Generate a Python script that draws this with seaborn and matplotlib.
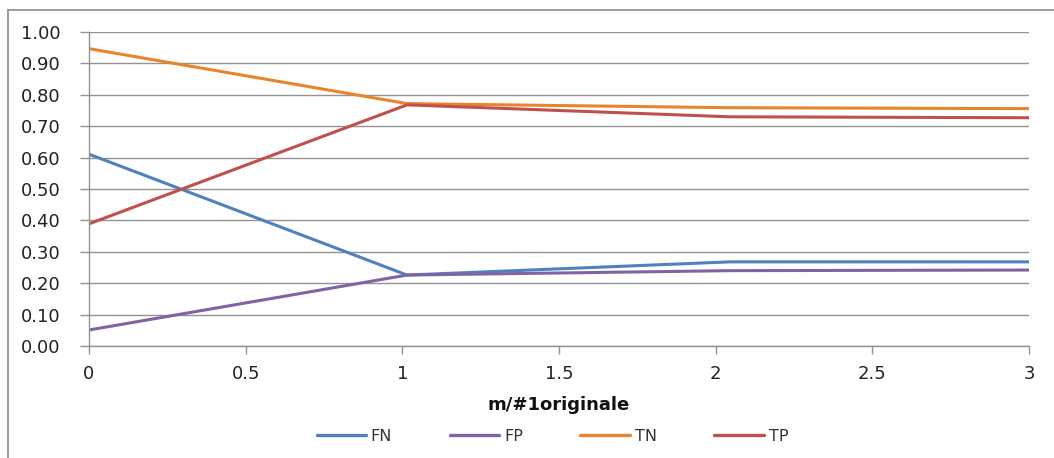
import matplotlib
matplotlib.use("Agg")
import matplotlib.pyplot as plt
from matplotlib.lines import Line2D
from matplotlib.ticker import FormatStrFormatter, MultipleLocator
import numpy as np
import pandas as pd
import seaborn as sns

# Ratio m / #1 originale at which the rates were measured
ratio = [0.0, 1.015, 2.045, 3.0]

# Rates per outcome class
fn = [0.611, 0.226, 0.268, 0.268]
fp = [0.051, 0.226, 0.240, 0.242]
tn = [0.947, 0.772, 0.759, 0.756]
tp = [0.389, 0.768, 0.730, 0.727]

series_names = ["FN", "FP", "TN", "TP"]
series_colors = ["#4F81BD", "#8064A2", "#E8842C", "#C0504D"]

df = pd.DataFrame({
    "ratio": ratio * 4,
    "value": fn + fp + tn + tp,
    "series": [s for s in series_names for _ in ratio],
})

sns.set_theme(style="white")
plt.rcParams["font.family"] = ["DejaVu Sans"]

fig = plt.figure(figsize=(10.54, 4.58), dpi=100)
ax = fig.add_axes([0.0844, 0.2445, 0.8919, 0.6856])

grid_col = "#939393"
sns.lineplot(data=df, x="ratio", y="value", hue="series",
             hue_order=series_names, palette=series_colors,
             linewidth=2.2, ax=ax, legend=False, sort=False,
             estimator=None)

ax.set_xlim(0, 3)
ax.set_ylim(0, 1.0)
ax.yaxis.set_major_locator(MultipleLocator(0.1))
ax.yaxis.set_major_formatter(FormatStrFormatter("%.2f"))
ax.set_xticks(np.arange(0, 3.01, 0.5))
ax.set_xticklabels(["0", "0.5", "1", "1.5", "2", "2.5", "3"])

ax.grid(axis="y", color=grid_col, linewidth=1.0)
ax.grid(axis="x", visible=False)
ax.set_axisbelow(True)
for side in ["top", "right"]:
    ax.spines[side].set_visible(False)
for side in ["left", "bottom"]:
    ax.spines[side].set_color(grid_col)
    ax.spines[side].set_linewidth(1.0)

ax.tick_params(axis="y", left=True, length=6.5, width=1, color=grid_col,
               labelsize=13, labelcolor="#222222", pad=14)
ax.tick_params(axis="x", bottom=True, length=6, width=1, color=grid_col,
               labelsize=13, labelcolor="#222222", pad=8)

ax.set_ylabel("")
ax.set_xlabel("m/#1originale", fontsize=13, fontweight="bold",
              color="#111111", labelpad=9)

handles = [Line2D([0], [0], color=c, linewidth=2.4) for c in series_colors]
fig.legend(handles, series_names, loc="center", bbox_to_anchor=(0.524, 0.048),
           ncol=4, frameon=False, fontsize=11.5, handlelength=3.1,
           handletextpad=0.3, columnspacing=3.6, labelcolor="#333333")

# Chart frame along top and left edges
fig.add_artist(Line2D([8 / 1054, 8 / 1054], [0, 1 - 10 / 458],
                      transform=fig.transFigure, color="#8C8C8C", linewidth=1.2))
fig.add_artist(Line2D([8 / 1054, 1], [1 - 10 / 458, 1 - 10 / 458],
                      transform=fig.transFigure, color="#8C8C8C", linewidth=1.2))

fig.savefig("out.png", dpi=100, facecolor="white")
